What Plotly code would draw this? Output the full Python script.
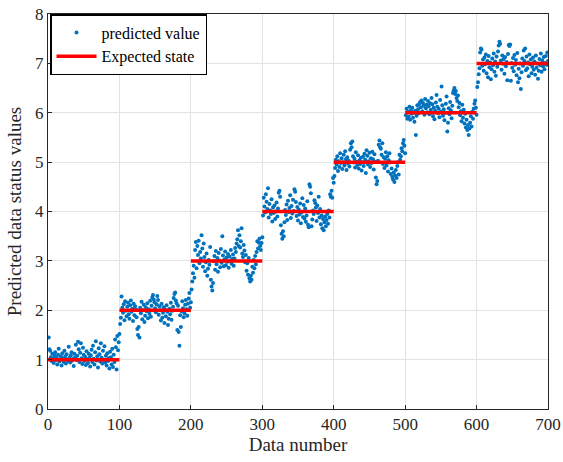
import plotly.graph_objects as go

# ---- data ----
seg1 = [1.45,1.21,1.18,1.05,0.97,1.12,1.02,0.93,1.08,1.15,
        0.99,1.04,0.90,1.10,1.22,0.96,1.01,1.07,0.88,1.13,
        1.03,0.95,1.18,1.06,0.92,1.11,1.00,0.97,1.26,1.04,
        0.94,1.09,1.15,0.98,1.02,0.87,1.12,1.05,1.30,0.99,
        1.08,1.36,1.21,0.95,1.14,1.33,1.03,0.91,1.24,1.10,
        0.97,1.06,0.89,1.17,1.01,0.93,1.12,1.04,0.86,1.09,
        1.20,0.95,1.28,1.02,0.90,1.15,1.37,0.98,1.07,0.84,
        1.23,1.11,0.96,1.33,1.04,0.92,1.18,1.00,1.27,0.94,
        1.08,0.88,1.13,0.97,1.03,0.82,1.16,1.05,0.90,1.22,
        0.85,1.10,0.95,1.41,1.25,0.80,1.48,1.19,1.35,1.52]
seg2 = [1.72,1.85,2.28,2.05,1.95,2.12,1.80,2.18,1.99,1.88,
        2.07,2.15,1.92,1.83,2.10,2.20,1.97,2.03,1.78,2.13,
        1.90,2.08,2.01,1.86,1.62,1.50,1.66,1.45,2.05,1.94,
        2.17,1.82,2.00,2.11,1.76,1.89,2.06,1.98,2.14,1.84,
        2.02,1.93,2.19,1.87,2.09,2.26,2.31,2.22,2.16,2.04,
        1.96,2.12,2.29,2.21,1.91,2.08,2.00,1.79,2.13,1.85,
        1.95,2.06,1.74,2.01,1.88,2.10,1.97,1.70,1.83,2.03,
        1.92,2.15,1.81,1.99,2.07,2.25,2.33,2.36,2.20,2.14,
        1.60,2.09,1.56,1.28,1.90,1.66,1.98,2.18,2.04,1.86,
        1.94,2.11,2.21,2.02,1.89,2.13,2.24,2.35,2.05,2.16]
seg3 = [2.42,2.58,2.75,2.90,2.66,3.22,3.38,2.85,3.30,3.12,
        3.41,2.95,3.18,3.05,3.52,3.25,2.88,3.35,3.08,2.79,
        2.97,3.15,2.70,2.84,3.02,2.92,3.28,2.62,2.48,2.40,
        2.55,2.99,3.10,2.82,3.20,2.93,3.06,2.78,3.16,3.01,
        2.87,3.24,2.96,3.50,3.11,2.89,3.03,3.19,2.91,3.07,
        2.98,3.14,2.86,3.09,3.00,3.22,2.94,3.04,3.13,2.90,
        3.05,3.26,3.18,3.35,3.44,3.62,3.30,3.52,3.27,3.40,
        3.66,3.15,3.08,3.32,3.21,2.97,3.12,2.80,2.95,2.72,
        3.06,2.65,2.58,2.70,2.62,2.88,2.76,3.02,2.85,3.10,
        2.93,3.18,3.40,3.25,3.37,3.45,3.30,3.22,3.36,3.48]
seg4 = [3.92,4.28,4.10,3.98,4.35,4.20,4.05,4.47,3.88,4.15,
        4.02,3.95,4.25,3.80,4.08,3.97,4.12,3.85,4.00,4.18,
        3.90,4.06,4.38,4.42,4.30,3.72,3.55,3.45,3.60,3.50,
        3.78,4.03,3.93,4.14,3.83,4.22,3.99,4.07,4.33,3.87,
        4.11,3.96,4.24,4.01,4.45,4.40,4.19,3.91,4.09,3.82,
        4.04,3.94,4.16,3.76,3.98,4.27,3.89,4.13,3.86,4.06,
        3.79,3.92,4.21,3.73,3.68,4.55,4.50,4.37,3.70,3.84,
        4.02,3.95,4.23,4.17,4.08,3.81,4.12,3.97,4.30,3.88,
        4.05,3.74,3.92,3.66,3.85,3.62,3.78,3.90,3.70,3.83,
        3.95,3.75,4.02,3.88,4.35,4.30,4.42,4.28,4.68,4.58]
seg5 = [4.72,4.88,5.05,4.95,5.12,4.82,5.02,4.90,5.18,4.98,
        5.08,4.86,5.00,5.15,4.93,5.22,5.06,4.84,5.10,4.97,
        5.03,4.91,5.25,5.38,5.30,5.42,5.12,4.99,5.07,4.89,
        5.20,5.01,4.94,5.14,4.87,5.04,4.96,5.09,4.83,5.00,
        5.11,4.92,5.17,5.05,4.78,5.24,5.13,4.95,5.02,5.19,
        4.90,5.08,4.98,5.21,5.06,4.85,5.16,5.01,4.69,4.55,
        4.62,5.03,5.35,5.44,5.30,5.27,5.15,5.38,4.96,5.10,
        4.88,5.07,5.20,4.93,5.12,4.81,5.04,5.18,4.99,4.76,
        4.87,4.70,4.65,4.79,4.60,4.73,4.84,4.68,4.92,5.00,
        4.75,5.15,5.05,5.12,5.28,5.22,5.38,5.45,5.33,5.18]
seg6 = [5.95,6.08,5.88,6.02,5.92,6.12,5.86,6.05,5.98,6.10,
        5.90,6.00,5.82,6.04,5.55,5.94,6.15,6.07,5.99,6.18,
        6.22,6.11,6.25,6.03,6.20,6.14,5.96,6.28,6.09,6.16,
        6.01,6.24,6.13,5.97,6.19,6.06,6.30,6.17,5.93,6.10,
        5.87,6.04,6.21,6.36,6.12,5.99,6.08,5.91,6.26,6.02,
        6.53,6.15,5.94,6.07,5.85,6.00,6.18,6.33,5.62,5.80,
        6.09,5.97,6.22,6.05,5.89,6.14,6.40,6.45,6.50,6.38,
        6.44,6.30,6.24,6.35,6.11,6.20,5.95,6.03,5.83,6.16,
        5.90,6.06,5.78,5.98,5.70,5.86,5.65,5.75,5.55,5.68,
        5.80,5.93,5.72,6.02,5.88,6.08,6.18,6.25,6.10,5.96]
seg7 = [6.52,6.62,6.78,6.90,7.22,7.30,7.28,6.95,7.08,6.85,
        7.12,6.98,7.18,6.80,7.05,6.72,7.15,6.92,7.02,6.68,
        6.88,7.10,6.96,7.20,6.83,7.04,6.75,7.14,6.93,7.24,
        7.36,7.44,7.40,7.06,6.87,7.16,6.99,7.09,6.79,7.13,
        6.94,7.03,6.66,7.19,7.37,7.35,7.38,6.65,7.01,6.91,
        7.11,6.84,7.17,6.97,7.07,6.76,7.21,6.62,6.89,6.70,
        7.00,6.48,6.82,7.10,6.95,7.26,7.05,7.30,6.86,7.14,
        6.90,7.02,6.74,7.18,6.98,7.08,6.80,6.93,7.12,6.87,
        7.04,6.77,7.16,6.91,7.00,6.69,6.85,7.09,6.96,7.20,
        6.83,7.06,6.94,7.13,6.88,7.01,7.15,6.97,7.22,7.05]

predicted = seg1 + seg2 + seg3 + seg4 + seg5 + seg6 + seg7
data_number = list(range(1, len(predicted) + 1))

state_levels = [1, 2, 3, 4, 5, 6, 7]
state_starts = [0, 100, 200, 300, 400, 500, 600]
state_ends = [100, 200, 300, 400, 500, 600, 700]

x_ticks = [0, 100, 200, 300, 400, 500, 600, 700]
y_ticks = [0, 1, 2, 3, 4, 5, 6, 7, 8]

# ---- figure ----
FONT = "Liberation Serif"

line_x, line_y = [], []
for s, e, v in zip(state_starts, state_ends, state_levels):
    line_x += [s, e, None]
    line_y += [v, v, None]

fig = go.Figure()
fig.add_trace(go.Scatter(
    x=data_number, y=predicted, mode="markers", name="predicted value",
    marker=dict(color="#0072BD", size=4, line=dict(width=0)),
))
fig.add_trace(go.Scatter(
    x=line_x, y=line_y, mode="lines", name="Expected state",
    line=dict(color="#FF0000", width=3.5),
))

axis_common = dict(
    showline=True, linecolor="#262626", linewidth=1, mirror=True,
    showgrid=True, gridcolor="#E3E3E3", gridwidth=1,
    ticks="inside", ticklen=4, tickcolor="#262626",
    zeroline=False, automargin=False,
    tickfont=dict(family=FONT, size=17, color="#262626"),
)

fig.update_xaxes(range=[0, 700], tickvals=x_ticks,
                 title=dict(text="Data number", font=dict(family=FONT, size=19, color="#262626"), standoff=4),
                 **axis_common)
fig.update_yaxes(range=[0, 8], tickvals=y_ticks,
                 title=dict(text="Predicted data status values", font=dict(family=FONT, size=19, color="#262626"), standoff=8),
                 **axis_common)

fig.update_layout(
    width=563, height=462,
    margin=dict(l=48, r=15, t=14, b=53),
    plot_bgcolor="white", paper_bgcolor="white",
    font=dict(family=FONT, color="#262626"),
    legend=dict(x=0.004, y=1.0, xanchor="left", yanchor="top",
                bgcolor="white", bordercolor="black", borderwidth=1.5,
                font=dict(family=FONT, size=16, color="#000000"),
                tracegroupgap=0, itemwidth=40),
    showlegend=True,
)

fig.write_html("out.html")
